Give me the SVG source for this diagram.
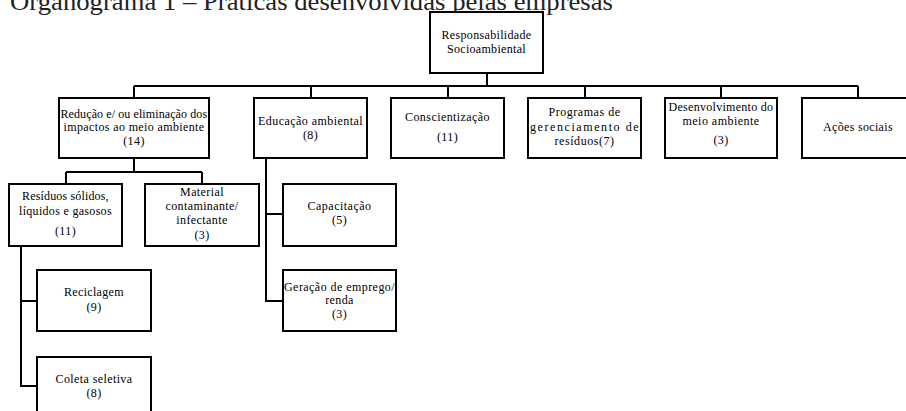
<svg xmlns="http://www.w3.org/2000/svg" width="906" height="411" viewBox="0 0 906 411">
<style>
.box{fill:#fff;stroke:#000;stroke-width:2}
.c{fill:none;stroke:#000;stroke-width:2}
text{font-family:"Liberation Serif","Times New Roman",serif;font-size:12px;fill:#000;text-anchor:middle;letter-spacing:0.4px}
.title{font-size:26px;text-anchor:start;letter-spacing:0;fill:#222}
</style>
<rect width="906" height="411" fill="#fff"/>
<text class="title" x="10" y="10" textLength="603" lengthAdjust="spacingAndGlyphs">Organograma 1 – Práticas desenvolvidas pelas empresas</text>
<g id="connectors">
<path class="c" d="M487 73V86M134 86H858M134 86V98M311 86V98M448 86V98M585 86V98M721 86V98M858 86V98"/>
<path class="c" d="M134 158V172M66 172H202M66 172V184M202 172V184"/>
<path class="c" d="M266 158V301H283M266 214H283"/>
<path class="c" d="M21 246V386H37M21 301H37"/>
</g>
<g id="root"><rect class="box" x="430" y="12" width="113" height="61"/>
<text x="486.5" y="39" textLength="90">Responsabilidade</text>
<text x="486.5" y="53" textLength="79">Socioambiental</text></g>
<g id="reducao"><rect class="box" x="59" y="98" width="150" height="60"/>
<text x="134" y="118" textLength="147">Redução e/ ou eliminação dos</text>
<text x="134" y="131" textLength="141">impactos ao meio ambiente</text>
<text x="134" y="145">(14)</text></g>
<g id="educacao"><rect class="box" x="254" y="98" width="113" height="60"/>
<text x="310.5" y="125" textLength="105">Educação ambiental</text>
<text x="310.5" y="139">(8)</text></g>
<g id="conscientizacao"><rect class="box" x="391" y="98" width="113" height="60"/>
<text x="447.5" y="121" textLength="85">Conscientização</text>
<text x="447.5" y="141">(11)</text></g>
<g id="programas"><rect class="box" x="528" y="98" width="113" height="60"/>
<text x="584.5" y="116" textLength="72">Programas de</text>
<text x="584.5" y="131" textLength="109">gerenciamento de</text>
<text x="584.5" y="145" textLength="60">resíduos(7)</text></g>
<g id="desenvolvimento"><rect class="box" x="665" y="98" width="112" height="60"/>
<text x="721" y="111" textLength="105">Desenvolvimento do</text>
<text x="721" y="125" textLength="77">meio ambiente</text>
<text x="721" y="144">(3)</text></g>
<g id="acoes"><rect class="box" x="802" y="98" width="112" height="60"/>
<text x="858" y="131" textLength="70">Ações sociais</text></g>
<g id="residuos"><rect class="box" x="9" y="184" width="113" height="62"/>
<text x="65.5" y="200" textLength="87">Resíduos sólidos,</text>
<text x="65.5" y="215" textLength="93">líquidos e gasosos</text>
<text x="65.5" y="235">(11)</text></g>
<g id="material"><rect class="box" x="145" y="184" width="114" height="62"/>
<text x="202" y="196">Material</text>
<text x="202" y="210" textLength="73">contaminante/</text>
<text x="202" y="224">infectante</text>
<text x="202" y="239">(3)</text></g>
<g id="capacitacao"><rect class="box" x="283" y="184" width="113" height="62"/>
<text x="339.5" y="210" textLength="64">Capacitação</text>
<text x="339.5" y="224">(5)</text></g>
<g id="geracao"><rect class="box" x="283" y="270" width="113" height="61"/>
<text x="339.5" y="291" textLength="111">Geração de emprego/</text>
<text x="339.5" y="304">renda</text>
<text x="339.5" y="318">(3)</text></g>
<g id="reciclagem"><rect class="box" x="37" y="270" width="114" height="61"/>
<text x="94" y="296" textLength="60">Reciclagem</text>
<text x="94" y="311">(9)</text></g>
<g id="coleta"><rect class="box" x="37" y="357" width="114" height="70"/>
<text x="94" y="383" textLength="77">Coleta seletiva</text>
<text x="94" y="397">(8)</text></g>
</svg>
